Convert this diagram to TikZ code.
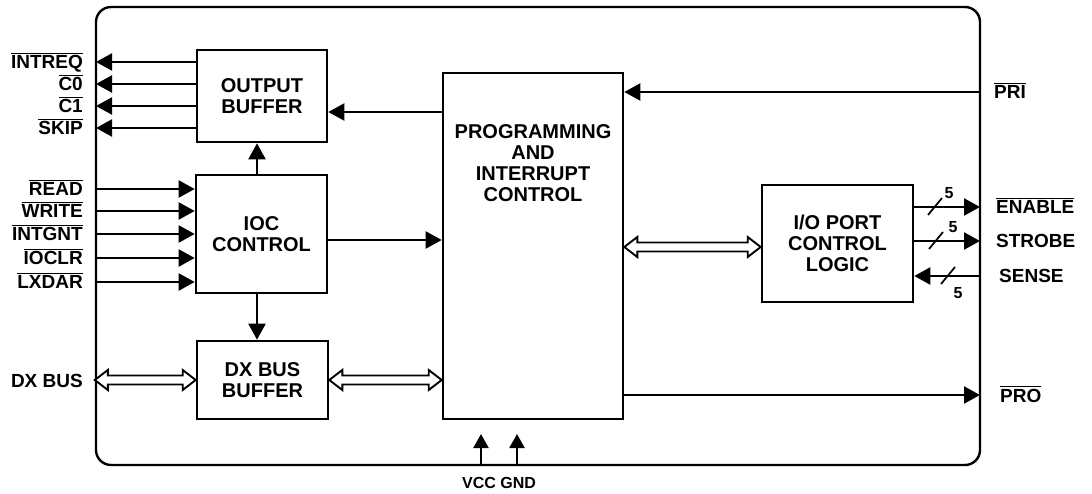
\documentclass[tikz,border=0pt]{standalone}
\usepackage{fontspec}
\setmainfont{Liberation Sans}
\usetikzlibrary{arrows.meta,calc}
\newcommand\ovl[1]{\leavevmode\vbox{\hrule height 1.3pt\kern 1.6pt\hbox{#1}}}
\newcommand\busarrow[2]{\path[bus] let \p1=#1, \p2=#2 in
  (\x1,\y1) -- (\x1+13pt,\y1+10pt) -- (\x1+13pt,\y1+4.5pt) -- (\x2-13pt,\y1+4.5pt)
  -- (\x2-13pt,\y1+10pt) -- (\x2,\y1) -- (\x2-13pt,\y1-10pt) -- (\x2-13pt,\y1-4.5pt)
  -- (\x1+13pt,\y1-4.5pt) -- (\x1+13pt,\y1-10pt) -- cycle;}
\begin{document}
\begin{tikzpicture}[x=1pt,y=-1pt, line width=2.4pt,
  blk/.style={draw, line width=2.6pt, inner sep=0pt, align=center, font=\bfseries\fontsize{20}{21}\selectfont},
  lbl/.style={inner sep=0pt, font=\bfseries\fontsize{19}{21}\selectfont},
  arr/.style={-{Triangle[length=16pt,width=17pt]}, line width=2.2pt},
  sarr/.style={-{Triangle[length=14pt,width=15pt]}, line width=2.2pt},
  bus/.style={draw, line width=1.9pt, fill=white, line join=miter},
  slash/.style={line width=1.7pt},
  num/.style={inner sep=0pt, font=\bfseries\fontsize{16}{16}\selectfont}]
\useasboundingbox (0,0) rectangle (1092,494);

% chip outline
\node[draw, rounded corners=15pt, line width=2.4pt, minimum width=884pt, minimum height=458pt, inner sep=0pt] (chip) at (538,236) {};

% blocks
\node[blk, minimum width=130pt, minimum height=92pt] (ob) at (262,96) {OUTPUT\\BUFFER};
\node[blk, minimum width=131pt, minimum height=118pt] (ioc) at (261.5,234) {IOC\\CONTROL};
\node[blk, minimum width=131pt, minimum height=78pt] (dx) at (262.5,380) {DX BUS\\BUFFER};
\node[blk, minimum width=180pt, minimum height=346pt] (prog) at (533,246) {};
\node[blk, draw=none, anchor=north] (progtxt) at (533,123) {PROGRAMMING\\AND\\INTERRUPT\\CONTROL};
\node[blk, minimum width=151pt, minimum height=117pt] (io) at (837.5,243.5) {I/O PORT\\CONTROL\\LOGIC};

% output signals
\foreach \y/\n/\t in {62/intreq/INTREQ, 84/cz/C0, 106/co/C1, 128/skip/SKIP}{
  \coordinate (\n) at (96,\y);
  \draw[arr] (ob.west |- \n) -- (\n);
  \node[lbl, anchor=base east] (l\n) at (84,\y+7) {\ovl{\t}};
}
% input signals
\foreach \y/\n/\t in {189/read/READ, 211/write/WRITE, 234/intgnt/INTGNT, 258/ioclr/IOCLR, 282/lxdar/LXDAR}{
  \coordinate (\n) at (96,\y);
  \draw[arr] (\n) -- (ioc.west |- \n);
  \node[lbl, anchor=base east] (l\n) at (84,\y+7) {\ovl{\t}};
}

% internal arrows
\coordinate (xa) at (257,0);
\coordinate (yob) at (0,112);
\coordinate (yioc) at (0,240);
\draw[arr] (ioc.north -| xa) -- (ob.south -| xa);
\draw[arr] (ioc.south -| xa) -- (dx.north -| xa);
\draw[arr] (prog.west |- yob) -- (ob.east |- yob);
\draw[arr] (ioc.east |- yioc) -- (prog.west |- yioc);

% buses
\coordinate (ydx) at (0,380);
\coordinate (yio) at (0,247);
\busarrow{(chip.west |- ydx)}{(dx.west |- ydx)}
\busarrow{(dx.east |- ydx)}{(prog.west |- ydx)}
\busarrow{(prog.east |- yio)}{(io.west |- yio)}
\node[lbl, anchor=base east] (ldx) at (84,387) {DX BUS};

% right side signals
\coordinate (pri) at (980,92);
\coordinate (pro) at (980,395);
\coordinate (en) at (980,207);
\coordinate (st) at (980,241);
\coordinate (se) at (980,276);
\draw[arr] (pri) -- (prog.east |- pri);
\draw[arr] (prog.east |- pro) -- (pro);
\draw[arr] (io.east |- en) -- (en);
\draw[arr] (io.east |- st) -- (st);
\draw[arr] (se) -- (io.east |- se);
\node[lbl, anchor=base west] (lpri) at (993,99) {\ovl{PRI}};
\node[lbl, anchor=base west] (len) at (995,214) {\ovl{ENABLE}};
\node[lbl, anchor=base west] (lst) at (995,248) {STROBE};
\node[lbl, anchor=base west] (lse) at (998,283) {SENSE};
\node[lbl, anchor=base west] (lpro) at (999,402) {\ovl{PRO}};

% bus width marks
\draw[slash] (928,215) -- (942,198);
\draw[slash] (929,249) -- (943,232);
\draw[slash] (941,284) -- (955,267);
\node[num] (n1) at (949,193) {5};
\node[num] (n2) at (953,227) {5};
\node[num] (n3) at (958,293) {5};

% power
\coordinate (vcc) at (481,465);
\coordinate (vcct) at (481,434);
\coordinate (gnd) at (517,465);
\coordinate (gndt) at (517,434);
\draw[sarr] (vcc) -- (vcct);
\draw[sarr] (gnd) -- (gndt);
\node[inner sep=0pt, font=\bfseries\fontsize{16}{16}\selectfont, anchor=base] (lpow) at (499,488) {VCC GND};
\end{tikzpicture}
\end{document}
